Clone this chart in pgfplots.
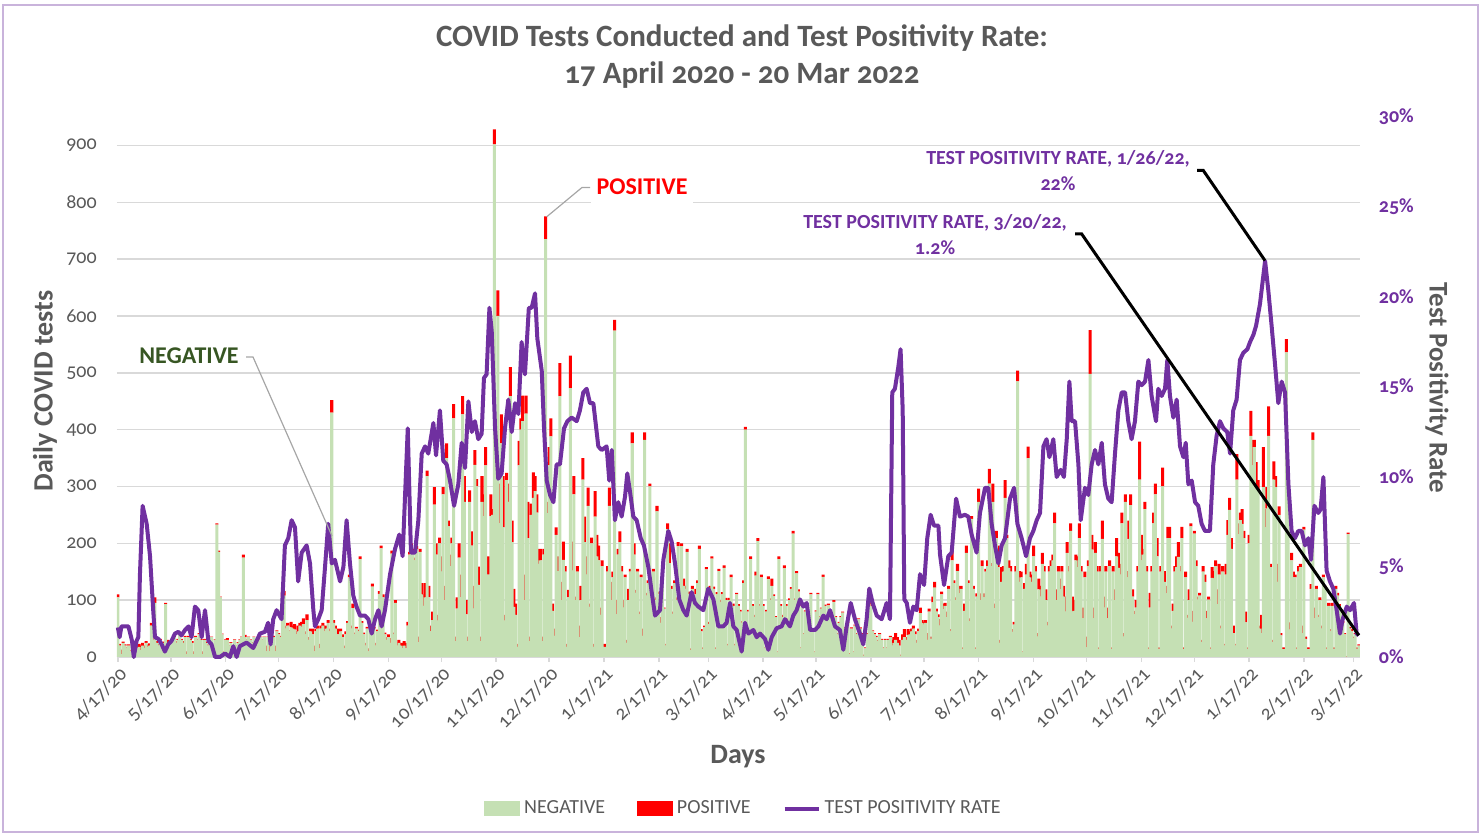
\documentclass[border=0pt]{standalone}
\usepackage{fontspec}
\setmainfont{Carlito}[Numbers=OldStyle]
\usepackage{pgfplots}
\usepackage{pgfplotstable}
\pgfplotsset{compat=1.18}
\definecolor{negc}{HTML}{C5E0B4}
\definecolor{posc}{HTML}{FF0000}
\definecolor{linec}{HTML}{7030A0}
\definecolor{txtc}{HTML}{595959}
\definecolor{gridc}{HTML}{D9D9D9}
\definecolor{negtxt}{HTML}{375623}
\definecolor{framec}{HTML}{C9B3DB}
\definecolor{leadc}{HTML}{A6A6A6}

\pgfplotstableread{
d neg pos
0 105 5
1 20 3
2 5 8
3 25 2
4 20 2
5 15 2
6 20 2
7 10 2
8 25 3
9 15 2
10 20 3
11 15 5
12 18 5
13 12 8
14 20 5
15 15 5
16 25 3
17 18 4
18 20 4
19 55 5
20 30 3
21 95 10
22 25 3
23 20 3
24 30 2
25 20 3
26 25 2
27 93 2
28 22 8
29 20 2
30 25 3
31 30 2
32 35 2
33 25 3
34 30 2
35 40 2
36 30 2
37 25 3
38 35 2
39 5 5
40 35 2
41 30 2
42 25 3
43 5 5
44 35 2
45 30 2
46 40 2
47 30 2
48 5 5
49 30 2
50 25 2
51 20 2
52 30 2
53 35 1
54 20 1
55 30 1
56 233 2
57 185 2
58 105 1
59 40 1
60 8 2
61 30 1
62 30 3
63 20 1
64 25 1
65 15 1
66 30 1
67 20 1
68 25 1
69 30 1
70 35 1
71 175 5
72 35 4
73 30 1
74 35 1
75 30 1
76 25 1
77 35 1
78 30 1
79 25 1
80 30 1
81 35 1
82 30 1
83 35 1
84 10 10
85 35 1
86 10 10
87 40 2
88 35 2
89 10 10
90 45 2
91 40 2
92 35 2
93 105 10
94 108 8
95 50 5
96 55 5
97 45 2
98 52 10
99 50 5
100 48 10
101 40 5
102 45 10
103 55 5
104 52 10
105 58 10
106 40 5
107 65 10
108 30 5
109 45 5
110 40 10
111 10 10
112 45 5
113 50 5
114 15 8
115 50 5
116 55 5
117 45 10
118 50 5
119 60 5
120 45 5
121 430 22
122 60 5
123 50 5
124 40 10
125 40 10
126 45 5
127 35 5
128 15 5
129 40 5
130 60 3
131 140 5
132 50 5
133 86 8
134 40 3
135 50 3
136 45 3
137 172 5
138 60 3
139 40 3
140 20 5
141 50 3
142 10 5
143 45 3
144 124 5
145 50 3
146 20 5
147 45 3
148 111 5
149 191 5
150 105 5
151 40 3
152 30 5
153 35 5
154 25 8
155 182 5
156 40 3
157 95 5
158 20 5
159 25 5
160 20 5
161 15 10
162 20 8
163 15 10
164 55 7
165 180 5
166 195 5
167 185 5
168 170 5
169 190 5
170 26 10
171 185 5
172 110 20
173 90 20
174 105 25
175 318 10
176 105 20
177 45 10
178 65 15
179 268 31
180 180 20
181 64 10
182 200 10
183 150 27
184 286 13
185 100 25
186 350 26
187 230 10
188 160 20
189 200 10
190 420 25
191 28 8
192 85 20
193 175 25
194 105 40
195 427 32
196 273 45
197 75 25
198 28 8
199 273 20
200 196 25
201 85 40
202 338 26
203 300 13
204 127 32
205 28 8
206 273 45
207 248 38
208 337 32
209 145 32
210 145 32
211 248 38
212 250 10
213 902 26
214 370 45
215 600 45
216 235 70
217 376 51
218 228 90
219 64 10
220 311 13
221 273 32
222 459 51
223 202 38
224 88 32
225 74 20
226 18 5
227 337 43
228 400 20
229 415 45
230 100 45
231 428 32
232 209 64
233 28 8
234 250 20
235 280 45
236 292 26
237 254 32
238 164 26
239 170 20
240 28 8
241 180 10
242 735 40
243 253 20
244 337 32
245 388 32
246 81 13
247 37 13
248 215 13
249 151 26
250 459 58
251 100 32
252 171 32
253 150 10
254 18 5
255 105 13
256 473 57
257 152 51
258 286 32
259 100 6
260 150 10
261 35 20
262 100 25
263 312 38
264 202 45
265 145 32
266 266 32
267 88 6
268 200 10
269 18 5
270 247 45
271 177 38
272 170 26
273 74 13
274 160 10
275 18 5
276 18 5
277 150 10
278 266 32
279 100 32
280 140 10
281 574 19
282 75 25
283 180 10
284 202 19
285 150 10
286 87 13
287 140 5
288 25 5
289 100 20
290 150 5
291 376 19
292 180 20
293 113 5
294 150 5
295 75 5
296 140 5
297 37 13
298 382 13
299 108 5
300 130 5
301 300 5
302 120 5
303 150 5
304 100 5
305 256 10
306 110 5
307 60 10
308 130 5
309 85 2
310 20 3
311 225 10
312 165 35
313 120 5
314 76 4
315 130 5
316 100 5
317 195 7
318 110 5
319 195 5
320 125 13
321 120 5
322 185 5
323 110 5
324 12 3
325 120 5
326 96 4
327 110 10
328 130 5
329 190 6
330 45 4
331 14 3
332 52 3
333 154 4
334 58 4
335 120 5
336 173 4
337 120 4
338 14 3
339 110 4
340 151 4
341 96 4
342 110 4
343 157 4
344 100 4
345 20 3
346 100 4
347 140 5
348 90 4
349 20 3
350 110 3
351 90 3
352 80 3
353 60 3
354 130 5
355 400 5
356 80 3
357 40 2
358 172 5
359 90 3
360 70 4
361 143 7
362 204 5
363 90 3
364 140 5
365 90 3
366 15 2
367 80 3
368 137 5
369 100 3
370 125 13
371 107 3
372 70 2
373 8 2
374 172 5
375 90 3
376 70 4
377 156 5
378 90 3
379 65 3
380 100 3
381 120 3
382 217 5
383 100 3
384 147 4
385 115 4
386 15 2
387 90 2
388 40 2
389 80 2
390 90 2
391 80 2
392 110 3
393 47 2
394 8 2
395 80 2
396 110 3
397 70 2
398 85 2
399 141 4
400 90 2
401 70 2
402 91 3
403 80 2
404 70 2
405 97 3
406 70 2
407 40 2
408 60 2
409 70 2
410 78 2
411 50 2
412 40 2
413 60 2
414 5 2
415 50 2
416 8 2
417 55 2
418 40 2
419 66 2
420 50 2
421 40 2
422 2 2
423 15 2
424 40 2
425 93 26
426 90 4
427 45 2
428 40 2
429 35 2
430 28 2
431 40 2
432 30 2
433 15 2
434 30 2
435 15 2
436 30 2
437 35 2
438 20 10
439 25 10
440 30 12
441 25 10
442 20 10
443 2 2
444 30 10
445 35 14
446 30 5
447 39 10
448 40 5
449 45 5
450 50 5
451 40 5
452 25 5
453 45 5
454 77 10
455 60 5
456 57 5
457 60 5
458 30 12
459 80 5
460 32 4
461 96 10
462 122 10
463 80 5
464 70 5
465 55 12
466 110 5
467 84 10
468 90 5
469 70 10
470 120 5
471 45 4
472 170 26
473 130 5
474 100 5
475 151 13
476 112 13
477 120 5
478 14 3
479 81 13
480 183 13
481 130 5
482 63 5
483 243 5
484 120 5
485 14 3
486 106 6
487 273 23
488 100 12
489 160 10
490 105 7
491 150 5
492 160 10
493 305 26
494 160 5
495 273 32
496 86 8
497 209 13
498 158 38
499 25 5
500 132 26
501 150 10
502 280 31
503 209 6
504 157 13
505 150 10
506 44 5
507 57 5
508 150 10
509 485 19
510 132 19
511 140 10
512 8 2
513 120 10
514 145 19
515 350 20
516 140 10
517 132 13
518 177 19
519 150 10
520 36 6
521 119 19
522 106 19
523 164 19
524 150 10
525 100 19
526 55 7
527 150 10
528 160 10
529 170 10
530 235 19
531 100 19
532 150 10
533 119 19
534 150 10
535 106 19
536 80 26
537 183 19
538 150 10
539 222 13
540 80 26
541 81 19
542 170 10
543 158 19
544 209 26
545 150 10
546 68 19
547 140 10
548 17 19
549 160 10
550 498 77
551 189 26
552 68 19
553 183 19
554 150 10
555 14 3
556 150 10
557 208 32
558 87 19
559 150 10
560 68 19
561 160 10
562 14 3
563 150 10
564 100 19
565 177 32
566 157 26
567 145 19
568 235 19
569 36 6
570 273 13
571 140 11
572 208 32
573 267 19
574 106 13
575 75 6
576 87 13
577 150 10
578 312 67
579 170 45
580 180 10
581 260 13
582 150 10
583 14 3
584 87 26
585 150 10
586 235 19
587 286 19
588 177 32
589 14 3
590 150 10
591 300 33
592 132 19
593 112 13
594 209 20
595 209 20
596 50 5
597 81 13
598 150 10
599 158 19
600 176 26
601 150 10
602 209 20
603 14 3
604 140 10
605 69 5
606 100 19
607 230 5
608 62 19
609 217 5
610 160 10
611 101 5
612 108 5
613 26 4
614 150 10
615 132 13
616 68 13
617 101 5
618 14 3
619 139 19
620 138 13
621 160 10
622 93 26
623 145 19
624 50 5
625 150 10
626 20 3
627 145 19
628 215 26
629 259 21
630 190 19
631 42 13
632 20 3
633 312 45
634 216 19
635 241 13
636 234 26
637 209 13
638 61 19
639 14 3
640 200 15
641 389 44
642 337 45
643 369 13
644 298 45
645 292 19
646 50 5
647 42 32
648 299 70
649 228 32
650 261 38
651 389 52
652 158 6
653 26 4
654 312 32
655 299 19
656 132 32
657 250 15
658 38 4
659 14 3
660 14 3
661 536 23
662 273 13
663 48 13
664 170 13
665 140 10
666 140 5
667 14 3
668 150 10
669 158 6
670 42 13
671 224 5
672 32 4
673 14 3
674 14 3
675 120 8
676 382 13
677 68 19
678 120 5
679 70 4
680 100 5
681 50 5
682 140 5
683 120 5
684 14 3
685 90 5
686 45 4
687 90 5
688 14 3
689 120 5
690 108 5
691 90 3
692 78 3
693 60 3
694 40 2
695 0 1
696 216 3
697 50 3
698 45 4
699 33 3
700 40 2
701 14 3
702 20 2
}\bars

\pgfplotstableread{
d r
0 1.64
1 1.1
2 1.7
6 1.7
8 0.9
9 0
10.6 0.9
11.6 1.1
12.5 4.6
14 8.4
16.3 7.4
18.2 5.6
20 2.6
21 1.1
23 1.0
24.8 0.7
26.6 0.3
28.5 0.7
30.4 0.9
32.3 1.3
34.2 1.4
36 1.2
38 1.5
40 1.7
41.7 1.1
43.6 2.8
45.5 2.6
47.4 1.1
49.3 2.6
51.2 0.9
53 0.7
55 0
57.8 0
60.6 0.2
63.4 0
65.3 0.6
67.2 0
69 0.6
72.8 0.8
76.6 0.5
78.5 0.9
80.4 1.3
83.2 1.4
85 1.9
86.4 0.7
87.9 2.1
89.8 2.6
92.6 2.1
94.5 6.2
96.4 6.6
98.3 7.6
100.2 7.2
102 4.2
104 5.8
106.8 6.2
108.7 5.2
110.6 2.6
111.5 1.7
113.4 2.1
115.3 2.6
117.2 5.0
119 7.4
121 5.2
122.8 5.4
125.7 4.2
127.6 5.0
129.4 7.6
131.3 5.2
133.2 3.4
135 2.8
137 2.3
139.8 2.3
141.7 2.1
143.6 1.3
145.5 2.1
147.4 2.6
149.2 1.7
151.1 2.6
154 4.6
156.8 6.0
159.2 6.8
161.1 5.6
164 12.7
165.8 5.8
168.1 5.8
170 7.6
171.9 11.3
173.8 11.7
175.6 11.3
178.5 13.0
180 11.2
182.2 13.7
184.1 10.9
186 10.7
187.9 9.8
190.2 8.4
192.6 9.6
194.5 11.9
196.4 10.5
198.3 14.2
200.2 12.5
202 13.1
203.9 12.1
205.8 12.4
207.1 15.5
208.6 15.7
210.2 19.4
211.5 18.1
213.4 12.7
215.2 9.9
217.1 10.2
219 12.7
220.9 14.3
222.8 12.5
224.7 14.1
226.6 13.5
228.4 17.5
230.3 15.7
232.5 19.4
234.1 19.4
236 20.2
237.3 17.7
239.8 15.9
241.1 12.7
242.6 9.8
244.5 9.0
246.4 8.6
248.2 10.7
250.1 10.7
252.4 12.7
254.3 13.1
256.7 13.3
259.6 13.1
261.4 13.7
263.3 14.7
265.2 14.9
267.1 14.1
269 14.1
271.8 11.7
273.7 11.5
276.5 11.7
278 9.8
279.4 11.5
281.2 7.6
283.1 8.6
285 7.8
286.9 8.9
288.2 10.2
289.7 9.2
291.6 7.8
293.5 7.6
295.8 6.6
297.6 6.2
300.1 5.0
302 3.6
303.9 2.3
306.7 2.6
308.6 5.4
311.4 7.0
313.3 6.4
315.2 5.2
317.6 3.2
319.9 2.6
321.8 2.3
324.6 3.6
326.5 3.0
328.4 2.8
331.2 2.6
334 3.8
336.9 3.2
339.7 1.7
342.5 1.7
344.4 1.9
346.3 3.0
348.2 1.7
350.1 1.5
352.9 0.3
354.8 1.9
356.7 1.3
359.5 1.5
361.4 1.1
363.3 1.3
366.1 1.0
368 0.4
369.9 1.1
372.7 1.6
375.5 1.7
377.4 2.1
380.2 1.7
382.1 2.3
384 2.6
385.9 3.2
387.8 2.8
389.7 3.0
391.6 1.5
394.4 1.5
396.3 1.7
399.1 2.3
401 2.1
402.9 2.6
405.7 1.7
408.5 1.5
410.4 0.4
412.3 1.7
414.6 3.0
417 2.1
419.8 1.3
421.7 0.7
423.6 2.1
425.1 3.8
427 3.0
429.3 2.3
432.1 2.1
434.9 3.0
436.8 2.1
438.1 14.7
439.6 14.9
441.5 16.1
442.8 17.1
444 13.7
444.9 3.2
446.3 3.0
448.1 1.9
450 2.8
451.9 2.6
453.8 4.6
456.1 4.0
457.9 6.6
459.8 7.9
461.7 7.3
464.2 7.3
465.1 5.7
467.4 4.0
469.8 5.6
471.7 5.8
474.2 8.8
476.4 7.8
479.2 7.9
481.1 7.8
483 6.8
485.8 5.8
487.7 8.0
490.6 9.4
492.4 9.4
494.3 7.4
496.2 6.2
498.1 5.2
500 6.2
501.9 6.6
504.7 8.8
507 9.4
508.9 7.4
511.3 6.6
513.8 5.6
516 6.6
517.9 7.0
519.8 7.6
521.7 8.0
523.6 11.7
525.4 12.1
527 11.1
529.2 12.1
531.1 10.0
533.4 10.4
535.2 10.0
536.8 12.1
538.3 15.3
539.6 13.1
541.5 13.1
543.4 10.7
544.7 7.6
547.1 9.4
549 9.0
550.9 10.7
552.8 11.5
554.7 10.7
556.6 11.9
558.4 9.6
560.3 8.8
562.2 8.6
564.1 11.3
566 13.7
567.9 14.7
569.8 14.7
571.6 13.1
573.5 12.1
575.4 13.1
577.3 15.3
579.2 15.1
581.1 15.3
583 16.5
584.8 14.5
587.3 13.1
588.6 14.9
590.5 14.5
592.4 14.9
593.7 16.5
595.2 14.5
597.1 13.3
599 14.3
600.9 11.7
602.8 11.1
604.1 11.9
605.6 9.6
607.5 9.8
609.4 8.6
611.2 8.4
613.1 7.4
615 7.0
617.8 7.0
619.7 10.7
621.6 12.3
623.5 13.1
625.4 12.7
627.6 12.5
629.2 11.3
631 13.7
632.9 14.3
634.8 16.5
636.7 16.9
639 17.1
640.5 17.5
642.4 17.9
643.9 18.4
646.1 19.6
649 22.0
650.8 20.4
652.7 18.4
654.6 16.3
656.5 14.1
658.4 15.3
660.3 14.7
662.2 9.6
664 7.0
665.9 6.6
667.8 7.0
669.7 7.0
671.6 6.2
673.5 6.6
675 5.4
676.9 8.4
679.1 8.0
680.4 8.2
682 10.0
683.8 4.8
685.7 4.2
687.6 3.8
689.5 2.6
691.4 1.3
692.9 2.1
695.2 2.8
697.1 2.6
699.3 3.0
700.8 1.3
702 1.2
}\rate

\begin{document}
\begin{tikzpicture}[x=0.5pt,y=0.5pt]
\path[use as bounding box] (0,0) rectangle (1483,834);
\draw[framec, line width=1pt] (3,2) rectangle (1478,829);

\node[font=\bfseries\fontsize{15.5}{18}\selectfont, text=txtc] at (742,796) {COVID Tests Conducted and Test Positivity Rate:};
\node[font=\bfseries\fontsize{15.5}{18}\selectfont, text=txtc] at (742,759) {17 April 2020 - 20 Mar 2022};

\begin{axis}[
  at={(58.4pt,88.5pt)}, anchor=south west,
  scale only axis, width=621.5pt, height=270pt,
  xmin=-0.6, xmax=702.6, ymin=0, ymax=950,
  ybar stacked, bar width=1.7,
  axis x line*=bottom, axis y line*=left,
  x axis line style={draw=gridc, line width=0.75pt},
  y axis line style={draw=none},
  xtick={0,30,61,91,122,153,183,214,244,275,306,334,365,395,426,456,487,518,548,579,609,640,671,699},
  xticklabels={4/17/20,5/17/20,6/17/20,7/17/20,8/17/20,9/17/20,10/17/20,11/17/20,12/17/20,1/17/21,2/17/21,3/17/21,4/17/21,5/17/21,6/17/21,7/17/21,8/17/21,9/17/21,10/17/21,11/17/21,12/17/21,1/17/22,2/17/22,3/17/22},
  x tick label style={rotate=45, anchor=north east, font=\fontsize{10}{12}\selectfont, text=txtc, inner sep=1pt},
  tick align=outside, major tick length=2.5pt,
  xtick style={draw=gridc, line width=0.75pt},
  ytick style={draw=none},
  ytick={0,100,200,300,400,500,600,700,800,900},
  yticklabels={0,100,200,300,400,500,600,700,800,900},
  y tick label style={font=\fontsize{10}{12}\selectfont, text=txtc, xshift=-4pt},
  ymajorgrids, grid style={draw=gridc, line width=0.75pt},
]
\addplot[fill=negc, draw=none] table[x=d,y=neg]{\bars};
\addplot[fill=posc, draw=none] table[x=d,y=pos]{\bars};
\end{axis}

\begin{axis}[
  at={(58.4pt,88.5pt)}, anchor=south west,
  scale only axis, width=621.5pt, height=270pt,
  xmin=-0.6, xmax=702.6, ymin=0, ymax=30,
  axis x line=none, axis y line*=right,
  y axis line style={draw=none}, ytick style={draw=none},
  ytick={0,5,10,15,20,25,30},
  yticklabels={0\%,5\%,10\%,15\%,20\%,25\%,30\%},
  y tick label style={font=\bfseries\fontsize{10}{12}\selectfont, text=linec, anchor=west, xshift=6pt},
  clip=false,
  legend columns=3,
  legend cell align=left,
  legend style={at={(0.505,-0.281)}, anchor=center, draw=none, fill=none,
    font=\fontsize{10}{12}\selectfont, text=txtc,
    /tikz/every even column/.append style={column sep=14pt}},
]
\addlegendimage{legend image code/.code={\fill[negc] (0pt,-3.5pt) rectangle (17.5pt,3.5pt);}}
\addlegendentry{NEGATIVE}
\addlegendimage{legend image code/.code={\fill[posc] (0pt,-3.5pt) rectangle (17.5pt,3.5pt);}}
\addlegendentry{POSITIVE}
\addplot[linec, line width=2pt, line join=round, mark=none,
  legend image code/.code={\draw[linec, line width=2pt] (0pt,0pt) -- (17pt,0pt);}]
  table[x=d,y=r]{\rate};
\addlegendentry{TEST POSITIVITY RATE}
\end{axis}

% axis titles
\node[rotate=90, font=\bfseries\fontsize{14}{16}\selectfont, text=txtc] at (45,443) {Daily COVID tests};
\node[rotate=-90, font=\bfseries\fontsize{13.5}{16}\selectfont, text=txtc] at (1437,446) {Test Positivity Rate};
\node[font=\bfseries\fontsize{14}{16}\selectfont, text=txtc] at (738,77) {Days};

% callouts
\draw[leadc, line width=0.6pt] (246,477) -- (253,477) -- (332,298);
\node[font=\bfseries\fontsize{12}{14}\selectfont, text=negtxt] at (189,478) {NEGATIVE};
\draw[leadc, line width=0.6pt] (590,646.5) -- (582,646.5) -- (546.7,617.2);
\node[font=\bfseries\fontsize{12}{14}\selectfont, text=posc, fill=white, inner xsep=3pt, inner ysep=5pt] at (642,647) {POSITIVE};

\draw[black, line width=1.5pt] (1197,663.5) -- (1203.3,663.5) -- (1265,573.4);
\node[font=\bfseries\fontsize{10}{13}\selectfont, text=linec, align=center] at (1058,663) {TEST POSITIVITY RATE, 1/26/22,\\22\%};
\draw[black, line width=1.5pt] (1075,600) -- (1081.7,600) -- (1358.8,198.6);
\node[font=\bfseries\fontsize{10}{13}\selectfont, text=linec, align=center] at (935,599.5) {TEST POSITIVITY RATE, 3/20/22,\\1.2\%};
\end{tikzpicture}
\end{document}
